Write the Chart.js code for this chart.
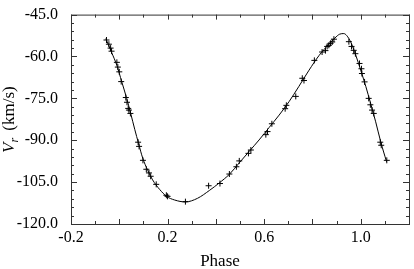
<!DOCTYPE html>
<html>
<head>
<meta charset="utf-8">
<script src="https://cdn.jsdelivr.net/npm/chart.js"></script>
<style>body{margin:0;background:#fff}</style>
</head>
<body>
<canvas id="rvChart" width="414" height="269"></canvas>
<script>
// observed radial velocities (phase, km/s)
const phaseObs = [-0.053,-0.043,-0.036,-0.032,-0.010,-0.006,0.000,0.008,0.027,0.032,0.037,0.040,0.046,
  0.078,0.082,0.098,0.112,0.123,0.130,0.153,0.195,0.200,0.274,0.370,0.417,0.456,0.485,0.497,0.535,0.545,
  0.607,0.614,0.632,0.687,0.692,0.731,0.758,0.765,0.808,0.840,0.854,0.861,0.868,0.875,0.882,0.889,
  0.951,0.962,0.971,0.978,0.995,1.003,1.005,1.016,1.033,1.040,1.047,1.054,1.081,1.085,1.108];
const velObs = [-54.1,-55.6,-57.0,-58.1,-62.1,-63.8,-65.5,-69.0,-74.7,-76.4,-78.6,-79.2,-80.4,
  -90.7,-92.2,-97.2,-100.4,-101.7,-102.9,-105.8,-109.7,-110.1,-112.0,-106.3,-105.5,-102.1,-99.5,-97.4,-94.7,-93.5,
  -88.0,-86.9,-84.1,-78.7,-77.5,-74.3,-67.8,-68.6,-61.4,-58.4,-57.9,-56.4,-56.0,-55.3,-54.8,-53.8,
  -54.7,-56.4,-57.8,-59.0,-62.5,-64.4,-66.1,-69.1,-75.0,-77.3,-79.2,-80.4,-90.7,-91.8,-97.2];

// orbit fit
const phaseFit = [-0.056,-0.031,-0.010,0.010,0.031,0.047,0.064,0.080,0.097,0.118,0.138,0.167,0.196,0.229,0.274,
  0.324,0.373,0.414,0.456,0.497,0.538,0.579,0.621,0.662,0.703,0.744,0.786,0.827,0.868,0.893,0.913,0.930,0.942,
  0.959,0.979,1.000,1.021,1.041,1.062,1.083,1.107];
const velFit = [-53.6,-58.7,-63.2,-69.0,-75.1,-80.3,-86.1,-91.2,-96.4,-100.8,-104.2,-107.6,-110.1,-111.4,-112.1,
  -110.8,-108.0,-105.3,-102.2,-98.1,-94.0,-89.9,-85.4,-81.0,-76.2,-70.7,-64.9,-59.7,-55.6,-53.4,-52.0,-51.8,-52.5,
  -54.9,-59.4,-64.9,-70.7,-76.8,-83.4,-90.6,-97.7];

const xLabels = [-0.2, 0.2, 0.6, 1.0];
const serif = '"Liberation Serif", "DejaVu Serif", serif';

const frameTicks = {
  id: 'frameTicks',
  afterDraw(chart) {
    const {ctx, chartArea: a, scales: {x, y}} = chart;
    ctx.save();
    ctx.strokeStyle = '#333';
    ctx.lineWidth = 1;
    ctx.strokeRect(a.left + 0.5, a.top + 0.5, a.right - a.left, a.bottom - a.top);
    ctx.beginPath();
    for (let k = 0; k <= 14; k++) {
      const px = Math.round(x.getPixelForValue(-0.2 + k * 0.1)) + 0.5;
      const len = k % 2 ? 3 : 5;
      ctx.moveTo(px, a.bottom); ctx.lineTo(px, a.bottom - len);
      ctx.moveTo(px, a.top); ctx.lineTo(px, a.top + len);
    }
    for (let k = 0; k <= 25; k++) {
      const py = Math.round(y.getPixelForValue(-120 + k * 3)) + 0.5;
      const len = k % 5 ? 3 : 6;
      ctx.moveTo(a.left, py); ctx.lineTo(a.left + len, py);
      ctx.moveTo(a.right, py); ctx.lineTo(a.right - len, py);
    }
    ctx.stroke();

    // axis titles
    ctx.fillStyle = '#000';
    ctx.textBaseline = 'alphabetic';
    ctx.font = '17px ' + serif;
    ctx.textAlign = 'center';
    ctx.fillText('Phase', 220, 266);

    ctx.translate(13.5, 153);
    ctx.rotate(-Math.PI / 2);
    ctx.textAlign = 'left';
    ctx.font = 'italic 17px ' + serif;
    ctx.fillText('V', 0, 0);
    let w = ctx.measureText('V').width;
    ctx.font = 'italic 12px ' + serif;
    ctx.fillText('r', w, 4);
    w += ctx.measureText('r').width + 3;
    ctx.font = '17px ' + serif;
    ctx.fillText(' (km/s)', w, 0);
    ctx.restore();
  }
};

new Chart('rvChart', {
  type: 'scatter',
  data: {
    datasets: [{
      data: phaseFit.map((p, i) => ({x: p, y: velFit[i]})),
      showLine: true,
      borderColor: '#000',
      borderWidth: 1,
      pointRadius: 0,
      cubicInterpolationMode: 'monotone',
      fill: false
    }, {
      data: phaseObs.map((p, i) => ({x: p, y: velObs[i]})),
      pointStyle: 'cross',
      pointRadius: 3,
      borderColor: '#000',
      borderWidth: 1,
      backgroundColor: '#000'
    }]
  },
  options: {
    responsive: false,
    animation: false,
    layout: {padding: {top: 5, right: 3, left: 0, bottom: 0}},
    plugins: {legend: {display: false}, tooltip: {enabled: false}},
    scales: {
      x: {
        type: 'linear', min: -0.2, max: 1.2,
        afterFit(s) { s.height = 45; },
        grid: {display: false},
        border: {display: false},
        ticks: {
          stepSize: 0.2, autoSkip: false, maxRotation: 0, padding: -4,
          color: '#000', font: {family: serif, size: 16},
          callback: v => xLabels.some(l => Math.abs(l - v) < 1e-6) ? v.toFixed(1) : ''
        }
      },
      y: {
        min: -120, max: -45,
        afterFit(s) { s.width = 71; },
        grid: {display: false},
        border: {display: false},
        ticks: {
          stepSize: 15, padding: 5,
          color: '#000', font: {family: serif, size: 16},
          callback: v => v.toFixed(1)
        }
      }
    }
  },
  plugins: [frameTicks]
});
</script>
</body>
</html>
